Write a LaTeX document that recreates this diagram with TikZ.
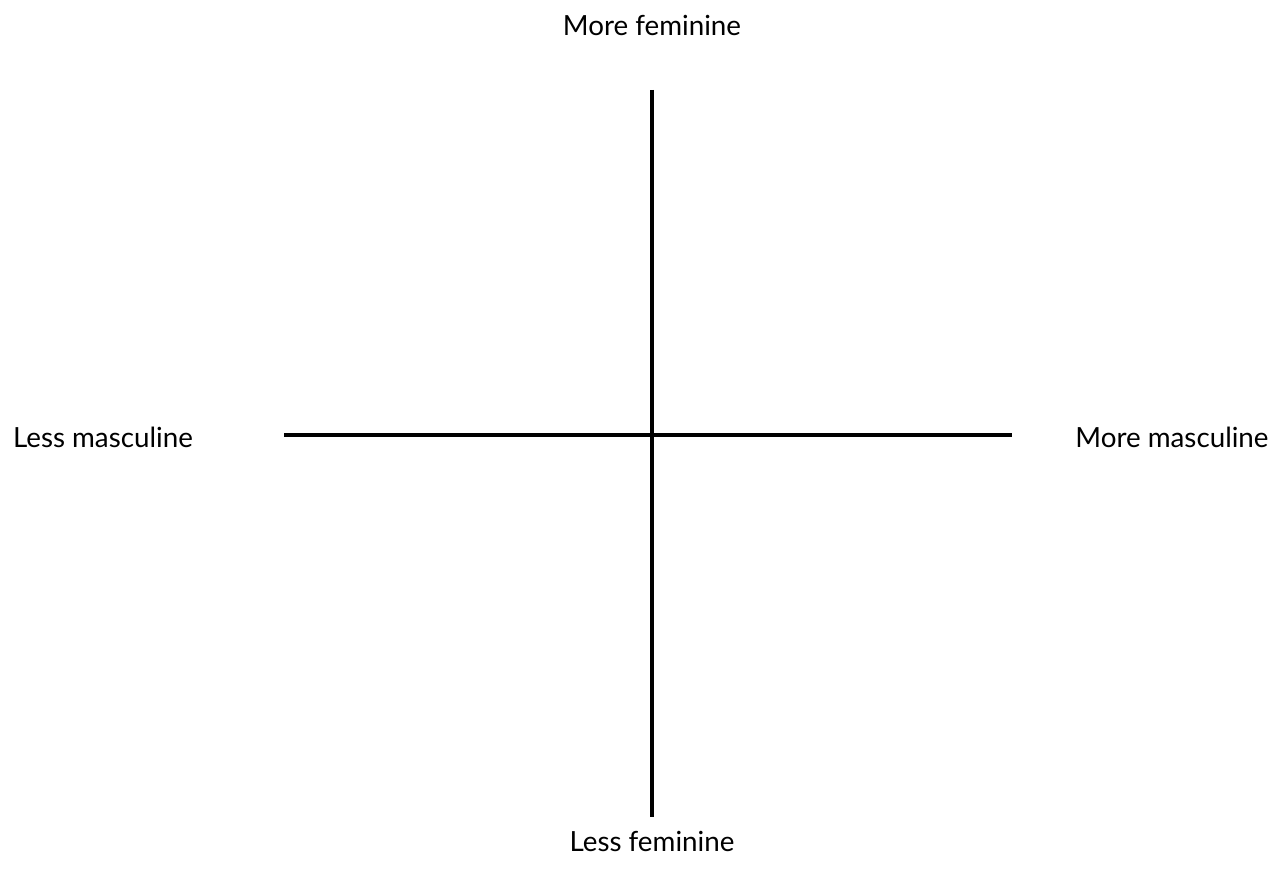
\documentclass[tikz,border=0pt]{standalone}
\usepackage{fontspec}
\setmainfont{Lato}
\usepackage{tikz}

\tikzset{
  axis/.style={line width=2.4pt},
  axislabel/.style={font=\fontsize{15.8}{18}\selectfont, inner sep=0pt}
}

\begin{document}
\begin{tikzpicture}
\useasboundingbox (0,0) rectangle (25.72,-17.68);
% axes ends
\coordinate (top) at (13.04,-1.80);
\coordinate (bottom) at (13.04,-16.34);
\coordinate (left) at (5.68,-8.70);
\coordinate (right) at (20.24,-8.70);
\draw[axis] (top) -- (bottom);
\draw[axis] (left) -- (right);
% labels
\node[axislabel] (morefem) at (13.04,-0.50) {More feminine};
\node[axislabel] (lessfem) at (13.04,-16.82) {Less feminine};
\node[axislabel] (lessmasc) at (2.06,-8.74) {Less masculine};
\node[axislabel] (moremasc) at (23.44,-8.74) {More masculine};
\end{tikzpicture}
\end{document}
